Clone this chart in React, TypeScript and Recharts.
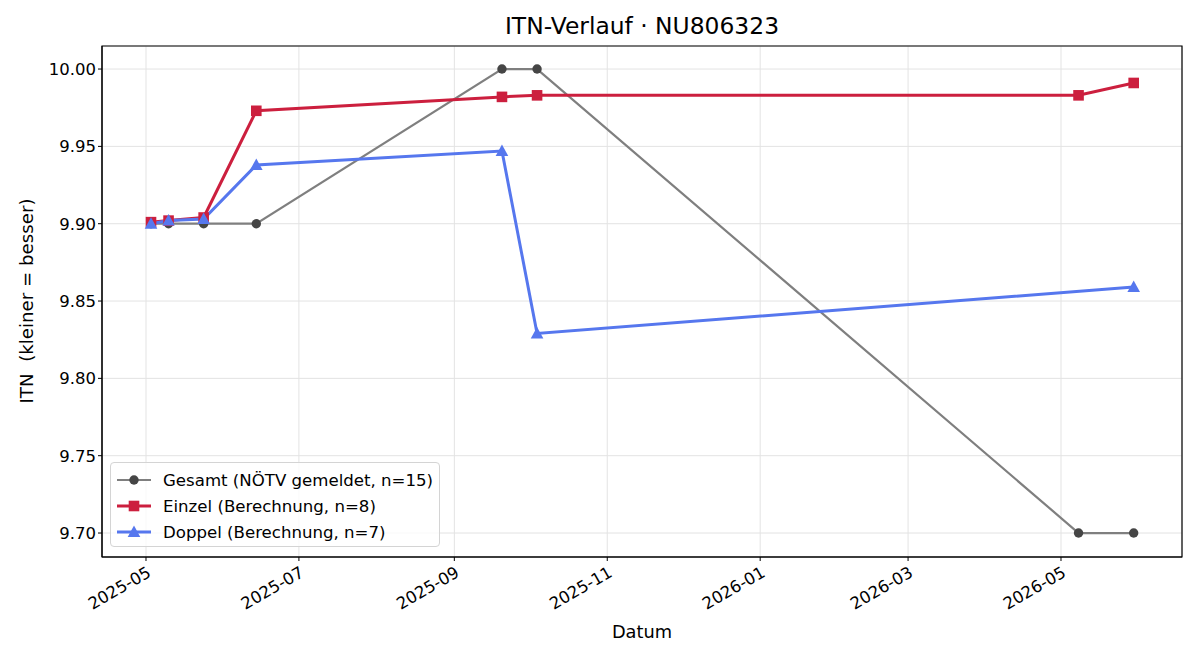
import { LineChart, Line, XAxis, YAxis, CartesianGrid, ReferenceArea } from 'recharts';

const DAY = 86400000;
const ts = (d: string) => Date.parse(d + 'T00:00:00Z');

// Gesamt (NÖTV gemeldet)
const gesamtDates = ['2025-05-03', '2025-05-10', '2025-05-24', '2025-06-14', '2025-09-20', '2025-10-04', '2026-05-08', '2026-05-30'];
const gesamtValues = [9.9, 9.9, 9.9, 9.9, 10.0, 10.0, 9.7, 9.7];

// Einzel (Berechnung)
const einzelDates = ['2025-05-03', '2025-05-10', '2025-05-24', '2025-06-14', '2025-09-20', '2025-10-04', '2026-05-08', '2026-05-30'];
const einzelValues = [9.901, 9.902, 9.904, 9.973, 9.982, 9.983, 9.983, 9.991];

// Doppel (Berechnung)
const doppelDates = ['2025-05-03', '2025-05-10', '2025-05-24', '2025-06-14', '2025-09-20', '2025-10-04', '2026-05-30'];
const doppelValues = [9.9, 9.902, 9.903, 9.938, 9.947, 9.829, 9.859];

const xTickDates = ['2025-05-01', '2025-07-01', '2025-09-01', '2025-11-01', '2026-01-01', '2026-03-01', '2026-05-01'];
const yTicks = [9.7, 9.75, 9.8, 9.85, 9.9, 9.95, 10.0];

const series = [
  { name: 'Gesamt (NÖTV gemeldet, n=15)', dates: gesamtDates, values: gesamtValues, stroke: '#7f7f7f', fill: '#454545', width: 2.2, marker: 'circle' },
  { name: 'Einzel (Berechnung, n=8)', dates: einzelDates, values: einzelValues, stroke: '#cc1f3e', fill: '#cc1f3e', width: 3, marker: 'square' },
  { name: 'Doppel (Berechnung, n=7)', dates: doppelDates, values: doppelValues, stroke: '#5677ee', fill: '#5677ee', width: 3, marker: 'triangle' },
];

const xDomain = [ts('2025-05-01') - 17.55 * DAY, ts('2026-05-01') + 48.27 * DAY];
const yDomain = [9.6845, 10.0149];

const FONT = '"DejaVu Sans", sans-serif';

function fmtMonth(v: number) {
  const d = new Date(v);
  return `${d.getUTCFullYear()}-${String(d.getUTCMonth() + 1).padStart(2, '0')}`;
}

function Marker({ kind, cx, cy, color }: { kind: string; cx: number; cy: number; color: string }) {
  if (kind === 'square') {
    return <rect x={cx - 5.3} y={cy - 5.3} width={10.6} height={10.6} fill={color} />;
  }
  if (kind === 'triangle') {
    return <polygon points={`${cx},${cy - 6.5} ${cx + 6.3},${cy + 5} ${cx - 6.3},${cy + 5}`} fill={color} />;
  }
  return <circle cx={cx} cy={cy} r={4.7} fill={color} />;
}

function XTick({ x, y, payload }: any) {
  return (
    <g transform={`translate(${x},${y})`}>
      <text x={0} y={0} dy={14} dx={-1} textAnchor="end" transform="rotate(-30)" fontSize={16.5} fontFamily={FONT} fill="#000">
        {fmtMonth(payload.value)}
      </text>
    </g>
  );
}

export default function App() {
  return (
    <div style={{ position: 'absolute', left: 0, top: 0, width: 1200, height: 660, background: '#fff', fontFamily: FONT }}>
      <LineChart width={1200} height={660} margin={{ top: 46, right: 18, bottom: 63, left: 42 }}>
        <CartesianGrid stroke="#e3e3e3" strokeWidth={1} />
        <XAxis
          type="number"
          dataKey="t"
          domain={xDomain}
          ticks={xTickDates.map(ts)}
          tick={<XTick />}
          tickSize={4}
          height={40}
          allowDataOverflow
          axisLine={{ stroke: '#000' }}
          tickLine={{ stroke: '#000' }}
        />
        <YAxis
          type="number"
          dataKey="v"
          domain={yDomain}
          ticks={yTicks}
          tickFormatter={(v: number) => v.toFixed(2)}
          tick={{ fontSize: 16.5, fontFamily: FONT, fill: '#000' }}
          tickSize={4}
          width={60}
          allowDataOverflow
          axisLine={{ stroke: '#000' }}
          tickLine={{ stroke: '#000' }}
        />
        {series.map((s) => (
          <Line
            key={s.name}
            name={s.name}
            data={s.dates.map((d, i) => ({ t: ts(d), v: s.values[i] }))}
            dataKey="v"
            stroke={s.stroke}
            strokeWidth={s.width}
            isAnimationActive={false}
            dot={(p: any) => <Marker key={`${s.name}-${p.index}`} kind={s.marker} cx={p.cx} cy={p.cy} color={s.fill} />}
            activeDot={false}
          />
        ))}
        <ReferenceArea x1={xDomain[0]} x2={xDomain[1]} y1={yDomain[0]} y2={yDomain[1]} fill="none" stroke="#000" strokeWidth={1.2} />
      </LineChart>

      <div style={{ position: 'absolute', left: 0, width: 1284, top: 12, textAlign: 'center', fontSize: 23.4, color: '#000' }}>
        ITN-Verlauf · NU806323
      </div>
      <div style={{ position: 'absolute', left: 0, width: 1284, top: 621, textAlign: 'center', fontSize: 17.8, color: '#000' }}>
        Datum
      </div>
      <div
        style={{
          position: 'absolute',
          left: 26,
          top: 301,
          transform: 'translate(-50%, -50%) rotate(-90deg)',
          fontSize: 18.2,
          whiteSpace: 'pre',
          color: '#000',
        }}
      >
        {'ITN  (kleiner = besser)'}
      </div>

      <div
        style={{
          position: 'absolute',
          left: 110,
          top: 462,
          width: 330,
          height: 85,
          boxSizing: 'border-box',
          border: '1px solid #d4d4d4',
          borderRadius: 4,
          background: 'rgba(255,255,255,0.8)',
          padding: '4px 0 0 0',
        }}
      >
        {series.map((s) => (
          <div key={s.name} style={{ display: 'flex', alignItems: 'center', height: 26, fontSize: 16.6 }}>
            <svg width={52} height={20} style={{ flex: 'none' }}>
              <line x1={6} y1={10} x2={40} y2={10} stroke={s.stroke} strokeWidth={s.width} />
              <Marker kind={s.marker} cx={23} cy={10} color={s.fill} />
            </svg>
            <span>{s.name}</span>
          </div>
        ))}
      </div>
    </div>
  );
}
